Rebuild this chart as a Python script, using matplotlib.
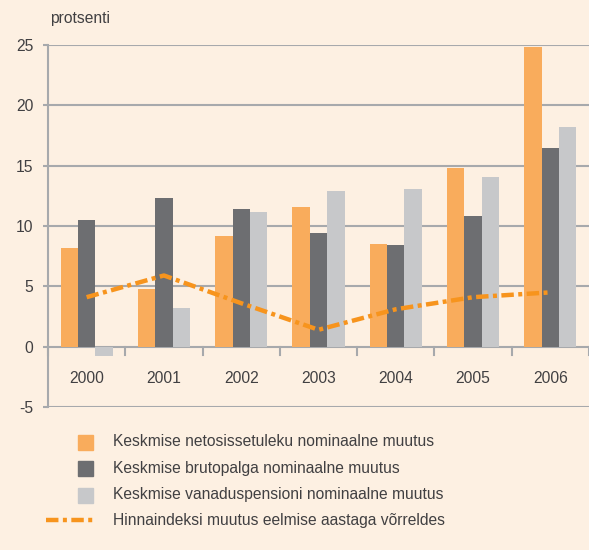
import matplotlib.pyplot as plt
import numpy as np
from matplotlib.patches import Rectangle
from matplotlib.lines import Line2D

plt.rcParams['font.family'] = ['Liberation Sans', 'DejaVu Sans']
plt.rcParams['axes.unicode_minus'] = False

# Data
years = ['2000', '2001', '2002', '2003', '2004', '2005', '2006']
netosissetulek = [8.2, 4.8, 9.2, 11.6, 8.5, 14.8, 24.8]
brutopalk = [10.5, 12.3, 11.4, 9.4, 8.4, 10.85, 16.5]
vanaduspension = [-0.8, 3.2, 11.2, 12.9, 13.1, 14.1, 18.2]
hinnaindeks = [4.1, 5.9, 3.6, 1.4, 3.1, 4.1, 4.5]

labels = [
    'Keskmise netosissetuleku nominaalne muutus',
    'Keskmise brutopalga nominaalne muutus',
    'Keskmise vanaduspensioni nominaalne muutus',
    'Hinnaindeksi muutus eelmise aastaga võrreldes',
]

bg = '#FDF0E2'
c_orange = '#F9AC5C'
c_dark = '#6D6E71'
c_light = '#C7C8CA'
c_line = '#F7941D'
c_grid = '#A7A9AC'
c_text = '#414042'
line_dash = (2.8, 1.0, 0.9, 1.0)

fig = plt.figure(figsize=(5.89, 5.5), dpi=100, facecolor=bg)
ax = fig.add_axes([48 / 589, 1 - 407 / 550, 1 - 48 / 589, (407 - 45) / 550])
ax.set_facecolor(bg)

x = np.arange(len(years))
w = 0.225
ax.bar(x - w, netosissetulek, w, color=c_orange, zorder=3)
ax.bar(x, brutopalk, w, color=c_dark, zorder=3)
ax.bar(x + w, vanaduspension, w, color=c_light, zorder=3)
ax.plot(x, hinnaindeks, color=c_line, lw=3.2, dashes=line_dash, zorder=4,
        dash_capstyle='butt')

ax.set_xlim(-0.5, 6.5)
ax.set_ylim(-5, 25)
ax.set_yticks(range(-5, 26, 5))
ax.yaxis.grid(True, color=c_grid, lw=1.5, zorder=1)
ax.tick_params(axis='y', length=3.6, width=1.5, color=c_grid, labelsize=11.25,
               labelcolor=c_text, pad=7)
ax.set_xticks([])
for s in ['top', 'right', 'bottom']:
    ax.spines[s].set_visible(False)
ax.spines['left'].set_color(c_grid)
ax.spines['left'].set_linewidth(1.5)

# category boundary ticks below zero line
for b in np.arange(-0.5, 6.6, 1):
    ax.plot([b, b], [0, -0.65], color=c_grid, lw=1.5, zorder=2, clip_on=False)
for i, yr in enumerate(years):
    ax.text(i, -2.6, yr, ha='center', va='center', fontsize=11.25, color=c_text)

fig.text(50 / 589, 1 - 18 / 550, 'protsenti', ha='left', va='center',
         fontsize=11.25, color=c_text)

# legend
rows = [442, 468, 495, 520]
colors = [c_orange, c_dark, c_light]
for ry, col in zip(rows[:3], colors):
    fig.add_artist(Rectangle((78 / 589, 1 - (ry + 7.5) / 550), 15 / 589, 15 / 550,
                             transform=fig.transFigure, color=col))
fig.add_artist(Line2D([46 / 589, 93 / 589], [1 - rows[3] / 550] * 2,
                      transform=fig.transFigure, color=c_line, lw=3.2,
                      dashes=line_dash, dash_capstyle='butt'))
for ry, lab in zip(rows, labels):
    fig.text(113 / 589, 1 - ry / 550, lab, ha='left', va='center',
             fontsize=11.25, color=c_text)

fig.savefig('out.png', dpi=100, facecolor=bg)
